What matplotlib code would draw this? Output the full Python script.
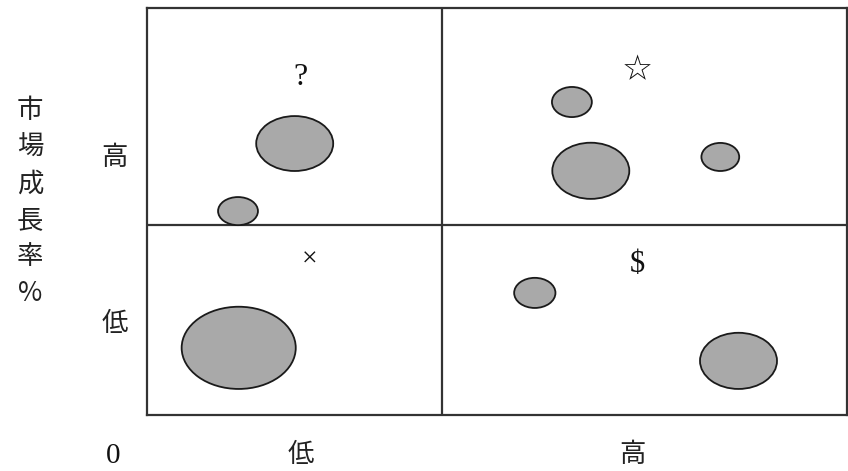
import matplotlib
matplotlib.use('Agg')
import matplotlib.pyplot as plt
from matplotlib.patches import Ellipse

plt.rcParams['font.family'] = ['Noto Sans CJK JP', 'DejaVu Sans']

# bubble data, in percent of the box (x = market share, y = growth rate)
bub_x = [21.1, 13.0, 60.7, 63.4, 81.9, 13.1, 55.4, 84.5]
bub_y = [66.7, 50.1, 76.9, 60.0, 63.4, 16.5, 30.0, 13.3]
bub_w = [11.0, 5.7, 5.7, 11.0, 5.4, 16.3, 5.9, 11.0]
bub_h = [13.5, 6.9, 7.4, 13.8, 6.9, 20.2, 7.4, 13.8]

# quadrant symbols
sym_text = ['?', '☆', '×', '$']
sym_x = [21.9, 70.0, 23.3, 70.1]
sym_y = [83.0, 84.8, 38.1, 36.9]
sym_size = [23, 25, 20, 22]

split_x = 42.1
split_y = 46.7
xtick_pos = [21.9, 69.4]
ytick_pos = [23.3, 63.9]
tick_labels = ['低', '高']

fig = plt.figure(figsize=(8.48, 4.71), dpi=100)
ax = fig.add_axes([147/848, 56/471, 700/848, 407/471])
ax.set_xlim(0, 100)
ax.set_ylim(0, 100)

for s in ax.spines.values():
    s.set_linewidth(1.6)
    s.set_color('#333333')
ax.axvline(split_x, color='#333333', lw=1.6)
ax.axhline(split_y, color='#333333', lw=1.6)

for x, y, w, h in zip(bub_x, bub_y, bub_w, bub_h):
    ax.add_patch(Ellipse((x, y), w, h, facecolor='#a9a9a9', edgecolor='#1a1a1a', lw=1.3, zorder=3))

for t, x, y, fs in zip(sym_text, sym_x, sym_y, sym_size):
    fam = ['DejaVu Sans'] if t == '☆' else ['Liberation Serif', 'DejaVu Sans']
    ax.text(x, y, t, ha='center', va='center', fontsize=fs, family=fam, color='#111111')

ax.set_xticks(xtick_pos)
ax.set_xticklabels(tick_labels, fontsize=19, color='#222222')
ax.set_yticks(ytick_pos)
ax.set_yticklabels(tick_labels, fontsize=19, color='#222222')
ax.tick_params(length=0)
ax.tick_params(axis='x', pad=19)
ax.tick_params(axis='y', pad=14)

fig.text(113/848, 1 - 456/471, '0', ha='center', va='center', fontsize=21,
         family=['Liberation Serif'], color='#111111')
fig.text(30/848, 1 - 202/471, '市\n場\n成\n長\n率\n%', ha='center', va='center',
         fontsize=19, linespacing=1.45, color='#222222')

fig.savefig('out.png', dpi=100, facecolor='white')
